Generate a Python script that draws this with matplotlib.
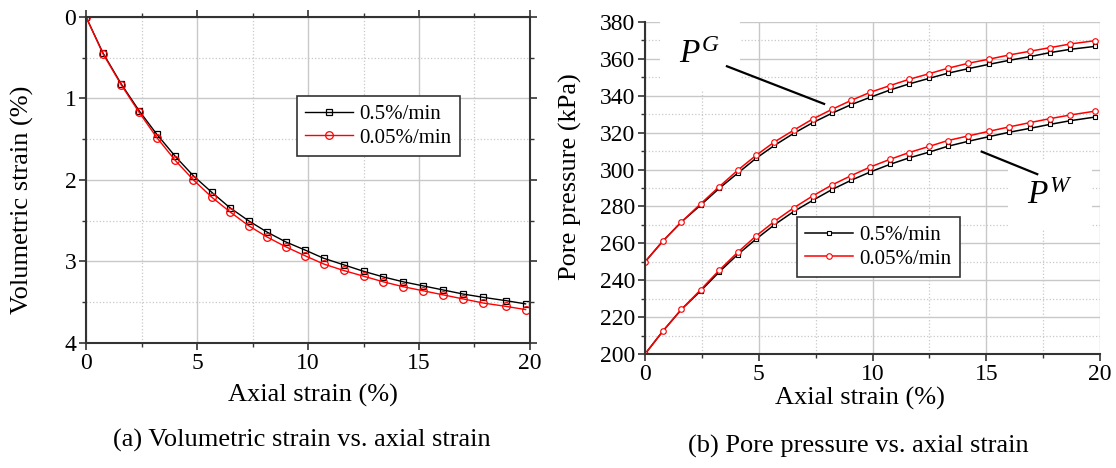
import matplotlib
matplotlib.use("Agg")
import matplotlib.pyplot as plt
from matplotlib.ticker import MultipleLocator

plt.rcParams['font.family'] = ['Liberation Serif', 'DejaVu Serif']
plt.rcParams['mathtext.fontset'] = 'custom'
plt.rcParams['mathtext.it'] = 'Liberation Serif:italic'
plt.rcParams['mathtext.rm'] = 'Liberation Serif'

# (a) volumetric strain vs axial strain
strain_a = [0, 0.76, 1.58, 2.39, 3.19, 4.02, 4.84, 5.66, 6.48, 7.32, 8.16, 9.0,
            9.87, 10.7, 11.6, 12.5, 13.4, 14.3, 15.2, 16.1, 17.0, 17.9, 18.9, 19.8]
vol_fast = [0, 0.44, 0.82, 1.15, 1.44, 1.71, 1.95, 2.15, 2.34, 2.50, 2.64, 2.76,
            2.86, 2.96, 3.04, 3.12, 3.19, 3.25, 3.30, 3.35, 3.40, 3.44, 3.48, 3.52]
vol_slow = [0, 0.45, 0.83, 1.17, 1.48, 1.76, 2.00, 2.21, 2.39, 2.56, 2.70, 2.82,
            2.93, 3.03, 3.11, 3.18, 3.25, 3.31, 3.36, 3.41, 3.46, 3.51, 3.55, 3.59]

# (b) pore pressure vs axial strain
strain_b = [0, 0.79, 1.6, 2.45, 3.26, 4.07, 4.88, 5.69, 6.53, 7.37, 8.21, 9.06,
            9.9, 10.76, 11.6, 12.5, 13.3, 14.2, 15.1, 16.0, 16.9, 17.8, 18.7, 19.8]
pg_fast = [250, 261.3, 271.6, 280.8, 289.8, 298.0, 306.1, 313.1, 319.6, 325.4, 330.5, 335.2,
           339.2, 343.1, 346.4, 349.5, 352.2, 354.7, 357.0, 359.2, 361.2, 363.4, 365.2, 366.8]
pg_slow = [250, 261.3, 271.6, 281.5, 290.7, 299.6, 307.7, 315.0, 321.3, 327.4, 332.6, 337.5,
           341.9, 345.5, 348.9, 352.0, 354.9, 357.6, 359.8, 362.1, 364.1, 366.1, 368.1, 369.9]
pw_fast = [200, 212.5, 224.2, 234.3, 244.5, 253.9, 262.3, 270.1, 277.2, 283.3, 289.1, 294.2,
           298.7, 302.8, 306.3, 309.5, 312.6, 315.3, 317.8, 320.2, 322.3, 324.5, 326.5, 328.5]
pw_slow = [200, 212.5, 224.2, 234.9, 245.4, 255.1, 264.0, 271.9, 279.2, 285.7, 291.6, 296.7,
           301.4, 305.5, 309.2, 312.6, 315.7, 318.2, 320.7, 323.1, 325.4, 327.6, 329.6, 331.7]

labels = ["0.5%/min", "0.05%/min"]
captions = ["(a) Volumetric strain vs. axial strain", "(b) Pore pressure vs. axial strain"]

spine_col = '#333333'
grid_col = '#c8c8c8'

fig = plt.figure(figsize=(11.16, 4.68), dpi=100)
ax1 = fig.add_axes([0.0771, 0.2671, 0.3978, 0.6966])
ax2 = fig.add_axes([0.578, 0.2436, 0.4077, 0.7094])


def style_axes(ax):
    ax.set_axisbelow(True)
    ax.grid(which='major', color=grid_col, linestyle='-', linewidth=1.0)
    ax.grid(which='minor', color=grid_col, linestyle=':', linewidth=0.9)
    for s in ax.spines.values():
        s.set_color(spine_col)
        s.set_linewidth(1.5)
    ax.tick_params(which='major', direction='out', length=5, width=1.2,
                   color=spine_col, labelsize=17, pad=2)
    ax.tick_params(which='minor', direction='out', length=3, width=1.0, color=spine_col)


def make_legend(ax, anchor):
    leg = ax.legend(loc='upper left', bbox_to_anchor=anchor, fontsize=15,
                    frameon=True, fancybox=False, framealpha=1, edgecolor=spine_col,
                    handlelength=2.3, labelspacing=0.2, borderpad=0.4, handletextpad=0.3,
                    borderaxespad=0)
    leg.get_frame().set_linewidth(1.2)
    return leg


# ---- left panel
ax1.plot(strain_a, vol_fast, color='black', linewidth=1.0, marker='s', markersize=5,
         markerfacecolor='none', markeredgecolor='black', markeredgewidth=0.9, label=labels[0])
ax1.plot(strain_a, vol_slow, color='red', linewidth=1.0, marker='o', markersize=5.5,
         markerfacecolor='none', markeredgecolor='red', markeredgewidth=0.9, label=labels[1])
ax1.set_xlim(0, 20)
ax1.set_ylim(4, 0)
ax1.xaxis.set_major_locator(MultipleLocator(5))
ax1.xaxis.set_minor_locator(MultipleLocator(2.5))
ax1.yaxis.set_major_locator(MultipleLocator(1))
ax1.yaxis.set_minor_locator(MultipleLocator(0.5))
style_axes(ax1)
ax1.tick_params(which='both', top=True, right=True)
ax1.set_xlabel("Axial strain (%)", fontsize=19)
ax1.set_ylabel("Volumetric strain (%)", fontsize=19)
ax1.xaxis.set_label_coords(0.51, -0.125)
ax1.yaxis.set_label_coords(-0.117, 0.44)
make_legend(ax1, (0.475, 0.758))

# ---- right panel
ax2.plot(strain_b, pg_fast, color='black', linewidth=1.1, marker='s', markersize=3.5,
         markerfacecolor='white', markeredgecolor='black', markeredgewidth=0.8, label=labels[0])
ax2.plot(strain_b, pg_slow, color='red', linewidth=1.1, marker='o', markersize=4,
         markerfacecolor='white', markeredgecolor='red', markeredgewidth=0.8, label=labels[1])
ax2.plot(strain_b, pw_fast, color='black', linewidth=1.1, marker='s', markersize=3.5,
         markerfacecolor='white', markeredgecolor='black', markeredgewidth=0.8)
ax2.plot(strain_b, pw_slow, color='red', linewidth=1.1, marker='o', markersize=4,
         markerfacecolor='white', markeredgecolor='red', markeredgewidth=0.8)
ax2.set_xlim(0, 20)
ax2.set_ylim(200, 380)
ax2.xaxis.set_major_locator(MultipleLocator(5))
ax2.xaxis.set_minor_locator(MultipleLocator(2.5))
ax2.yaxis.set_major_locator(MultipleLocator(20))
ax2.yaxis.set_minor_locator(MultipleLocator(10))
style_axes(ax2)
ax2.spines['top'].set_visible(False)
ax2.spines['right'].set_visible(False)
ax2.set_xlabel("Axial strain (%)", fontsize=19)
ax2.set_ylabel("Pore pressure (kPa)", fontsize=19)
ax2.xaxis.set_label_coords(0.473, -0.1)
ax2.yaxis.set_label_coords(-0.138, 0.533)
make_legend(ax2, (0.334, 0.413))

# curve annotations
ax2.text(2.4, 362, "$P^{G}$", fontsize=24, ha='center', va='center', zorder=1.5,
         bbox=dict(facecolor='white', edgecolor='none', pad=14))
ax2.plot([3.6, 7.87], [356, 335.6], color='black', linewidth=1.6)
ax2.text(17.8, 286, "$P^{W}$", fontsize=24, ha='center', va='center', zorder=1.5,
         bbox=dict(facecolor='white', edgecolor='none', pad=14))
ax2.plot([14.8, 17.24], [309.7, 297.5], color='black', linewidth=1.6)

fig.text(302 / 1116, 1 - 440 / 468, captions[0], fontsize=19, ha='center', va='center')
fig.text(858 / 1116, 1 - 446 / 468, captions[1], fontsize=19, ha='center', va='center')

fig.savefig("out.png", dpi=100)
plt.close(fig)
